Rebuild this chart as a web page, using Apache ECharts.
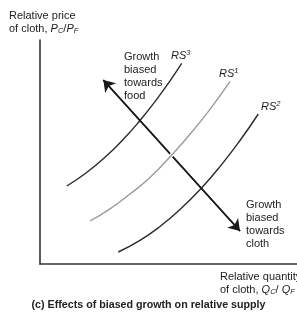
<!DOCTYPE html>
<html>
<head>
<meta charset="utf-8">
<script src="https://cdn.jsdelivr.net/npm/echarts@6/dist/echarts.min.js"></script>
<style>
  html, body { margin: 0; padding: 0; background: #fff; }
  #main { width: 297px; height: 316px; }
</style>
</head>
<body>
<div id="main"></div>
<script>
// curves (x = relative quantity, y = relative price, arbitrary units)
var rs3X = [26.7, 45, 65, 85, 100, 115, 130, 141.7];
var rs3Y = [78, 90.2, 106.7, 126.5, 143.5, 162.4, 183.2, 200.7];
var rs1X = [50, 70, 90, 110, 131.7, 150, 170, 190];
var rs1Y = [43, 55.2, 70, 86.5, 109, 129.7, 154.7, 182.3];
var rs2X = [78.3, 100, 120, 140, 161.5, 180, 200, 218.3];
var rs2Y = [12, 23.6, 37.5, 54.4, 76, 97.4, 123.5, 150];
// growth arrow: towards cloth end, towards food end
var arrowFrom = [200, 33];
var arrowTo = [63.3, 184];

function pairs(xs, ys) {
    return xs.map(function (x, i) { return [x, ys[i]]; });
}

var font = '"Liberation Sans", Arial, sans-serif';
var rich = {
    i: { fontStyle: 'italic', fontSize: 11, lineHeight: 13, fontFamily: font, fill: '#222' },
    sub: { fontStyle: 'italic', fontSize: 7.5, lineHeight: 6, verticalAlign: 'bottom', fontFamily: font, fill: '#222' },
    sup: { fontStyle: 'italic', fontSize: 7.5, lineHeight: 6, verticalAlign: 'top', fontFamily: font, fill: '#222' }
};

function label(x, y, text, extra) {
    var style = { text: text, fontSize: 11, lineHeight: 13, fontFamily: font, fill: '#222', rich: rich };
    for (var k in extra) style[k] = extra[k];
    return { type: 'text', left: x, top: y, style: style, z: 10 };
}

var myChart = echarts.init(document.getElementById('main'));

var option = {
    backgroundColor: '#ffffff',
    animation: false,
    grid: { left: 40, top: 40, right: 0, bottom: 52 },
    xAxis: {
        type: 'value', min: 0, max: 257,
        axisLine: { lineStyle: { color: '#333', width: 1.6 } },
        axisTick: { show: false }, axisLabel: { show: false }, splitLine: { show: false }
    },
    yAxis: {
        type: 'value', min: 0, max: 224,
        axisLine: { show: true, lineStyle: { color: '#333', width: 1.6 } },
        axisTick: { show: false }, axisLabel: { show: false }, splitLine: { show: false }
    },
    series: [
        {
            name: 'RS3', type: 'line', smooth: true, symbol: 'none', z: 3,
            lineStyle: { color: '#2a2a2a', width: 1.4 },
            data: pairs(rs3X, rs3Y)
        },
        {
            name: 'RS2', type: 'line', smooth: true, symbol: 'none', z: 3,
            lineStyle: { color: '#2a2a2a', width: 1.4 },
            data: pairs(rs2X, rs2Y)
        },
        {
            name: 'arrow', type: 'lines', coordinateSystem: 'cartesian2d', z: 4,
            symbol: ['none', 'arrow'], symbolSize: [7, 11],
            lineStyle: { color: '#1a1a1a', width: 1.6, opacity: 1 },
            data: [
                { coords: [arrowFrom, arrowTo] },
                { coords: [arrowTo, arrowFrom] }
            ]
        },
        {
            // white halo so RS1 cuts the arrow
            name: 'RS1halo', type: 'line', smooth: true, symbol: 'none', z: 5,
            lineStyle: { color: '#ffffff', width: 4 },
            data: pairs(rs1X, rs1Y)
        },
        {
            name: 'RS1', type: 'line', smooth: true, symbol: 'none', z: 6,
            lineStyle: { color: '#9a9a9a', width: 1.4 },
            data: pairs(rs1X, rs1Y)
        }
    ],
    graphic: [
        label(9, 9, 'Relative price\nof cloth, {i|P}{sub|C}/{i|P}{sub|F}'),
        label(124, 50, 'Growth\nbiased\ntowards\nfood'),
        label(246, 198, 'Growth\nbiased\ntowards\ncloth'),
        label(220, 270, 'Relative quantity\nof cloth, {i|Q}{sub|C}/ {i|Q}{sub|F}'),
        label(171, 49, '{i|RS}{sup|3}'),
        label(219, 67, '{i|RS}{sup|1}'),
        label(261, 100, '{i|RS}{sup|2}'),
        {
            type: 'text', left: 'center', top: 300, z: 10,
            style: {
                text: '(c) Effects of biased growth on relative supply',
                fontSize: 10.7, fontWeight: 'bold', fontFamily: font, fill: '#222'
            }
        }
    ]
};

myChart.setOption(option);
</script>
</body>
</html>
